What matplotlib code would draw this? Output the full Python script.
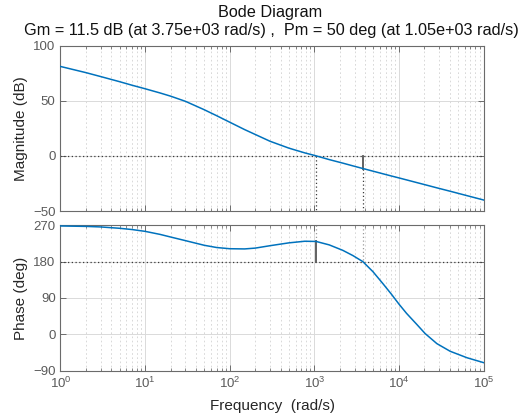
import matplotlib
matplotlib.use("Agg")
import matplotlib.pyplot as plt
from matplotlib.ticker import LogLocator, NullFormatter

plt.rcParams['font.family'] = ['Liberation Sans', 'DejaVu Sans']

# frequency response read at fixed frequencies (rad/s)
freq = [1, 2, 3, 5, 7, 10, 15, 20, 30, 50, 70, 100, 150, 200, 300, 500, 770,
        1050, 1500, 2170, 2860, 3750, 4940, 6500, 8180, 1e4, 1.23e4, 1.62e4,
        2.04e4, 2.81e4, 4.04e4, 6.39e4, 1e5]
mag_db = [81.0, 75.4, 71.8, 67.2, 64.0, 60.8, 57.0, 54.1, 49.4, 41.8, 36.4,
          30.5, 23.8, 19.4, 13.2, 7.0, 2.7, 0.0, -3.4, -6.6, -9.1, -11.5,
          -13.9, -16.3, -18.3, -20.0, -21.8, -24.2, -26.2, -29.0, -32.1,
          -36.1, -40.0]
phase_deg = [268.3, 267.3, 265.9, 262.6, 259.5, 255.0, 247.5, 241.0, 232.0,
             220.5, 215.0, 212.0, 211.5, 213.5, 219.5, 226.5, 230.5, 230.0,
             221.5, 208.0, 195.0, 180.0, 155.0, 125.0, 99.0, 75.0, 52.0,
             25.0, 2.0, -23.0, -42.0, -58.0, -70.0]

# stability margins
gm_db, w_gm = 11.5, 3.75e3
pm_deg, w_pm = 50, 1.05e3
phase_ref = 180

mag_ticks = [-50, 0, 50, 100]
phase_ticks = [-90, 0, 90, 180, 270]

line_col = '#0072BD'
tick_col = '#5a5a5a'
frame_col = '#6b6b6b'
ref_col = '#3a3a3a'

fig = plt.figure(figsize=(5.27, 4.19), dpi=100)
ax_m = fig.add_axes([0.1148, 0.4964, 0.8027, 0.395])
ax_p = fig.add_axes([0.1148, 0.1153, 0.8027, 0.347])


def style_axis(ax, yticks):
    ax.set_xscale('log')
    ax.set_xlim(1, 1e5)
    ax.set_ylim(yticks[0], yticks[-1])
    ax.set_yticks(yticks)
    ax.xaxis.set_major_locator(LogLocator(base=10, numticks=10))
    ax.xaxis.set_minor_locator(LogLocator(base=10, subs=range(2, 10), numticks=20))
    ax.xaxis.set_minor_formatter(NullFormatter())
    ax.tick_params(which='both', direction='in', top=True, right=True,
                   colors=tick_col, labelsize=9.5)
    ax.tick_params(which='major', length=4, width=0.6)
    ax.tick_params(which='minor', length=2, width=0.5)
    ax.grid(True, which='major', axis='x', color='#dadada', lw=0.7, ls='-')
    ax.grid(True, which='minor', axis='x', color='#d2d2d2', lw=0.6, ls=(0, (2, 3)))
    ax.grid(True, which='major', axis='y', color='#dadada', lw=0.7, ls='-')
    for s in ax.spines.values():
        s.set_color(frame_col)
        s.set_linewidth(0.8)
    ax.set_axisbelow(True)


style_axis(ax_m, mag_ticks)
style_axis(ax_p, phase_ticks)

# magnitude panel
ax_m.axhline(0, color=ref_col, lw=0.9, ls=(0, (1, 2)), zorder=2)
ax_m.plot([w_pm, w_pm], [0, mag_ticks[0]], color=ref_col, lw=0.9, ls=(0, (1, 2)), zorder=2)
ax_m.plot([w_gm, w_gm], [-gm_db, mag_ticks[0]], color=ref_col, lw=0.9, ls=(0, (1, 2)), zorder=2)
ax_m.plot([w_gm, w_gm], [0, -gm_db], color='#555555', lw=1.3, zorder=3)
ax_m.plot(freq, mag_db, color=line_col, lw=1.1, zorder=4)
ax_m.tick_params(axis='x', labelbottom=False)
ax_m.set_ylabel('Magnitude (dB)', fontsize=11, color='#262626', labelpad=4)

# phase panel
ax_p.axhline(phase_ref, color=ref_col, lw=0.9, ls=(0, (1, 2)), zorder=2)
ax_p.plot([w_pm, w_pm], [phase_ticks[-1], phase_ref + pm_deg], color='#9a9a9a',
          lw=0.9, ls=(0, (1, 2)), zorder=2)
ax_p.plot([w_gm, w_gm], [phase_ticks[-1], phase_ref], color='#9a9a9a',
          lw=0.9, ls=(0, (1, 2)), zorder=2)
ax_p.plot([w_pm, w_pm], [phase_ref, phase_ref + pm_deg], color='#555555', lw=1.3, zorder=3)
ax_p.plot(freq, phase_deg, color=line_col, lw=1.1, zorder=4)
ax_p.set_ylabel('Phase (deg)', fontsize=11, color='#262626', labelpad=4)
ax_p.set_xlabel('Frequency  (rad/s)', fontsize=11, color='#262626', labelpad=6)

fig.text(270 / 527, 1 - 12 / 419, 'Bode Diagram', ha='center', va='center',
         fontsize=11.7, color='#111111')
fig.text(271 / 527, 1 - 30 / 419,
         f'Gm = {gm_db} dB (at {w_gm:.2e} rad/s) ,  Pm = {pm_deg} deg (at {w_pm:.2e} rad/s)',
         ha='center', va='center', fontsize=11.7, color='#111111')

fig.savefig('out.png', dpi=100)
